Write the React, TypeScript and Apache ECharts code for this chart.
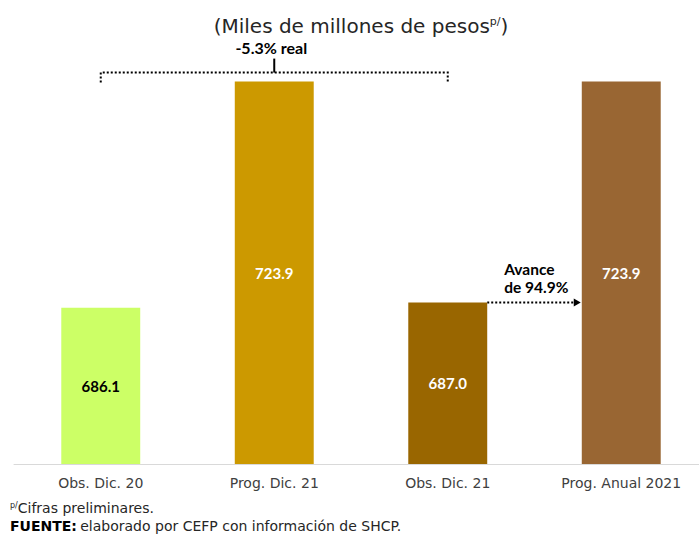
import React, { useEffect, useRef } from "react";
import * as echarts from "echarts";

const categories = ["Obs. Dic. 20", "Prog. Dic. 21", "Obs. Dic. 21", "Prog. Anual 2021"];
const values = [686.1, 723.9, 687.0, 723.9];
const barColors = ["#CCFF66", "#CC9900", "#996600", "#996633"];
const labelColors = ["#000000", "#ffffff", "#ffffff", "#ffffff"];
const changeLabel = "-5.3% real";
const progressLabel = "Avance\nde 94.9%";

const FONT = "'DejaVu Sans', sans-serif";
const BFONT = "Lato, 'Open Sans', sans-serif";

export default function App() {
  const ref = useRef<HTMLDivElement>(null);
  useEffect(() => {
    if (!ref.current) return;
    const chart = echarts.init(ref.current, null, { renderer: "svg" });
    const barWidthPct = 0.455;
    chart.setOption({
      animation: false,
      backgroundColor: "#ffffff",
      grid: { left: 14, right: 2, top: 81, bottom: 70, containLabel: false },
      xAxis: {
        type: "category",
        data: categories,
        axisLine: { show: true, lineStyle: { color: "#d9d9d9", width: 1 } },
        axisTick: { show: false },
        axisLabel: { color: "#404040", fontSize: 14, fontFamily: FONT, margin: 12 },
      },
      yAxis: {
        type: "value",
        min: 660,
        max: 724,
        show: false,
        splitLine: { show: false },
      },
      series: [
        {
          type: "bar",
          barWidth: barWidthPct * 100 + "%",
          data: values.map((v, i) => ({
            value: v,
            itemStyle: { color: barColors[i] },
            label: { color: labelColors[i] },
          })),
          label: {
            show: true,
            position: "inside",
            fontSize: 15,
            fontWeight: "bold",
            fontFamily: BFONT,
            formatter: (p: any) => Number(p.value).toFixed(1),
          },
        },
      ],
    });

    const px = (i: number, v: number) =>
      chart.convertToPixel({ xAxisIndex: 0, yAxisIndex: 0 }, [categories[i], v]) as number[];
    const p0 = px(0, values[0]);
    const p1 = px(1, values[1]);
    const p2 = px(2, values[2]);
    const p3 = px(3, values[3]);
    const band = p1[0] - p0[0];
    const half = (band * barWidthPct) / 2;
    const by = p1[1] - 9;
    const dotted = { stroke: "#000", lineWidth: 2, lineDash: [2, 2], fill: "none" };

    chart.setOption({
      graphic: [
        {
          type: "text",
          x: 361,
          y: 26,
          style: {
            text: "{a|(Miles de millones de pesos}{s|p/}{a|)}",
            align: "center",
            verticalAlign: "middle",
            rich: {
              a: { fontSize: 20, fontFamily: FONT, fill: "#262626" },
              s: { fontSize: 11, fontFamily: FONT, fill: "#262626", padding: [0, 0, 9, 0] },
            },
          },
        },
        {
          type: "text",
          x: p1[0] - 3,
          y: 47,
          style: {
            text: changeLabel,
            align: "center",
            verticalAlign: "middle",
            fontSize: 16,
            fontWeight: "bold",
            fontFamily: BFONT,
            fill: "#000",
          },
        },
        {
          type: "polyline",
          shape: { points: [[p0[0], by + 10], [p0[0], by], [p2[0], by], [p2[0], by + 10]] },
          style: dotted,
        },
        {
          type: "line",
          shape: { x1: p1[0], y1: by, x2: p1[0], y2: by - 14 },
          style: { stroke: "#000", lineWidth: 2 },
        },
        {
          type: "line",
          shape: { x1: p2[0] + half, y1: p2[1], x2: p3[0] - half - 6, y2: p2[1] },
          style: dotted,
        },
        {
          type: "polygon",
          shape: {
            points: [
              [p3[0] - half - 8, p2[1] - 4],
              [p3[0] - half - 1, p2[1]],
              [p3[0] - half - 8, p2[1] + 4],
            ],
          },
          style: { fill: "#000" },
        },
        {
          type: "text",
          x: p2[0] + half + 17,
          y: p2[1] - 24,
          style: {
            text: progressLabel,
            align: "left",
            verticalAlign: "middle",
            fontSize: 15.5,
            fontWeight: "bold",
            fontFamily: BFONT,
            lineHeight: 18,
            fill: "#000",
          },
        },
        {
          type: "text",
          x: 10,
          y: 508,
          style: {
            text: "{s|p/}{a|Cifras preliminares.}",
            verticalAlign: "middle",
            rich: {
              a: { fontSize: 14, fontFamily: FONT, fill: "#262626" },
              s: { fontSize: 8, fontFamily: FONT, fill: "#262626", padding: [0, 0, 6, 0] },
            },
          },
        },
        {
          type: "text",
          x: 10,
          y: 526,
          style: {
            text: "{b|FUENTE:} {a|elaborado por CEFP con información de SHCP.}",
            verticalAlign: "middle",
            rich: {
              a: { fontSize: 14, fontFamily: FONT, fill: "#262626" },
              b: { fontSize: 14, fontFamily: FONT, fill: "#000", fontWeight: "bold" },
            },
          },
        },
      ],
    });
    return () => chart.dispose();
  }, []);
  return (
    <div style={{ width: 699, height: 534, position: "absolute", left: 0, top: 0, overflow: "hidden" }}>
      <div ref={ref} style={{ width: 710, height: 534 }} />
    </div>
  );
}
